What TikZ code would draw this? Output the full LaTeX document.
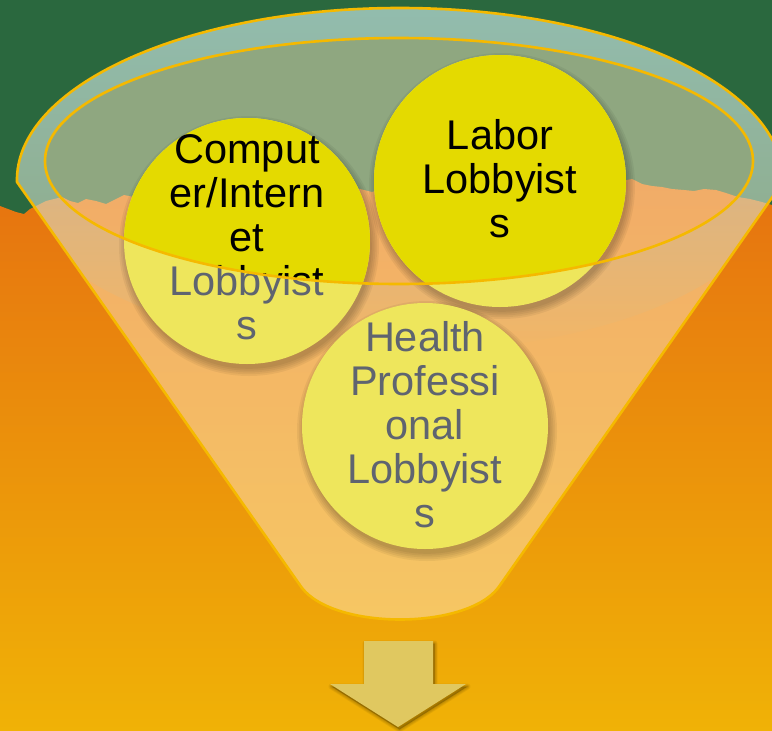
\documentclass[tikz,border=0pt]{standalone}
\usepackage{fontspec}
\setmainfont{Liberation Sans}
\usetikzlibrary{fadings}
\definecolor{bggreen}{RGB}{42,104,62}
\definecolor{bgorangeA}{RGB}{230,114,16}
\definecolor{bgorangeM}{RGB}{240,156,16}
\definecolor{bgorangeB}{RGB}{240,178,6}
\definecolor{bodyfill}{RGB}{255,236,200}
\definecolor{ringfill}{RGB}{150,210,220}
\definecolor{funnelline}{RGB}{245,185,0}
\definecolor{paleyellow}{RGB}{238,230,92}
\definecolor{brightyellow}{RGB}{228,218,0}
\definecolor{graytext}{RGB}{95,100,112}
\definecolor{arrowfill}{RGB}{224,200,96}
\tikzset{
  ballshape/.style={circle, fill=paleyellow, inner sep=0pt, minimum size=#1},
  ballbright/.style={circle, fill=brightyellow, inner sep=0pt, minimum size=#1},
  lbl/.style={font=\fontsize{41.5}{44}\selectfont, align=center, text=graytext, inner sep=0pt},
  lbldark/.style={lbl, text=black},
  outline/.style={draw=funnelline, line width=2.6pt, line join=round}
}
\def\bodypath{(17,182) arc[start angle=180.67, end angle=-0.67, x radius=383pt, y radius=172pt] -- (498,588) .. controls (465,630) and (335,630) .. (302,588) -- cycle}
\begin{document}
\begin{tikzpicture}[x=1pt,y=-1pt]
\useasboundingbox (0,0) rectangle (772,731);
% background
\fill[bggreen] (0,0) rectangle (772,731);
\shade[top color=bgorangeA, middle color=bgorangeM, bottom color=bgorangeB]
  (0,206) -- (8,209) -- (16,212) -- (24,214) -- (30,209) -- (38,205) -- (46,201) -- (54,199) -- (62,197) -- (70,201) -- (78,203) -- (86,199) -- (96,201) -- (106,204) -- (116,199) -- (124,195) -- (134,197) -- (144,201) -- (156,200) -- (170,197) -- (190,196) -- (220,194) -- (260,193) -- (300,192) -- (340,191) -- (360,189) -- (372,192) -- (384,188) -- (420,187) -- (460,186) -- (520,184) -- (570,183) -- (600,181) -- (612,178) -- (622,181) -- (632,179) -- (642,184) -- (652,186) -- (662,187) -- (672,189) -- (684,190) -- (694,191) -- (704,189) -- (716,190) -- (726,193) -- (738,197) -- (750,199) -- (762,202) -- (772,205) -- (772,731) -- (0,731) -- cycle;
% funnel body
\fill[bodyfill, opacity=0.48] \bodypath;
\begin{scope}
  \clip \bodypath;
  \fill[ringfill, opacity=0.5, even odd rule, path fading=south]
    (400,180) ellipse[x radius=383pt, y radius=172pt]
    (399,161) ellipse[x radius=354pt, y radius=123pt];
\end{scope}
% circle centres
\coordinate (cC) at (247,241);
\coordinate (cL) at (500,181);
\coordinate (cH) at (425,426);
% soft shadows
\foreach \k in {1,...,5}{
  \fill[black, opacity=0.05] ([shift={(2,5)}]cC) circle[radius=121pt+\k*1.8pt];
  \fill[black, opacity=0.05] ([shift={(2,5)}]cL) circle[radius=124pt+\k*1.8pt];
  \fill[black, opacity=0.05] ([shift={(2,5)}]cH) circle[radius=121pt+\k*1.8pt];
}
% pale circles with grey text
\node[ballshape=246pt] (compball) at (cC) {};
\node[ballshape=252pt] (laborball) at (cL) {};
\node[ballshape=246pt] (healthball) at (cH) {};
\node[lbl] (comptext) at (247,237) {Comput\\er/Intern\\et\\Lobbyist\\s};
\node[lbl] (labortext) at (500,179) {Labor\\Lobbyist\\s};
\node[lbl] (healthtext) at (425,425) {Health\\Professi\\onal\\Lobbyist\\s};
% bright part inside the funnel mouth
\begin{scope}
  \clip (399,161) ellipse[x radius=354pt, y radius=123pt];
  \node[ballbright=246pt] (compbright) at (cC) {};
  \node[ballbright=252pt] (laborbright) at (cL) {};
  \node[lbldark] (comptextdark) at (247,237) {Comput\\er/Intern\\et\\Lobbyist\\s};
  \node[lbldark] (labortextdark) at (500,179) {Labor\\Lobbyist\\s};
\end{scope}
% outlines
\draw[outline] \bodypath;
\draw[outline] (399,161) ellipse[x radius=354pt, y radius=123pt];
% down arrow
\foreach \k in {1,...,4}{
  \fill[black, opacity=0.06] [shift={(1.5,2.5)}] [line join=round, draw=black, line width=\k*1.5pt, draw opacity=0.05]
    (364,641) -- (433,641) -- (433,684) -- (466,684) -- (398,727) -- (330,684) -- (364,684) -- cycle;
}
\fill[arrowfill] (364,641) -- (433,641) -- (433,684) -- (466,684) -- (398,727) -- (330,684) -- (364,684) -- cycle;
\end{tikzpicture}
\end{document}
